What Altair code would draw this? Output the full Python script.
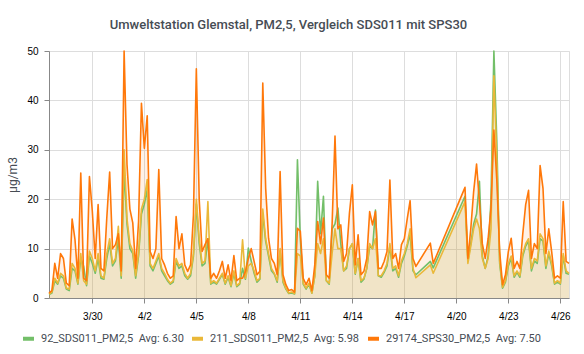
import altair as alt
import pandas as pd

N = None
start = "2021-03-27 12:00"
n_points = 181  # 4-hour grid

names = ["92_SDS011_PM2,5", "211_SDS011_PM2,5", "29174_SPS30_PM2,5"]
avgs = ["6.30", "5.98", "7.50"]
colors = ["#73BF69", "#EAB839", "#FF780A"]
tick_dates = [(3, 30), (4, 2), (4, 5), (4, 8), (4, 11), (4, 14), (4, 17), (4, 20), (4, 23), (4, 26)]
y_ticks = [0, 10, 20, 30, 40, 50]

sds92 = [
    0.7, 1.0, 3.5, 2.8, 4.5, 4.0, 1.8, 1.5, 6.0, 5.5,
    2.8, 8.0, 6.4, 2.5, 8.5, 7.0, 5.0, 8.0, 4.0, 3.8,
    8.0, 11.0, 6.5, 7.5, 12.0, 4.0, 26.0, 15.0, 10.0, 9.0,
    4.0, 8.5, 17.0, 19.0, 22.0, 6.5, 5.5, 7.0, 8.5, 5.5,
    4.5, 3.5, 2.8, 3.2, 7.5, 6.0, 6.5, 4.5, 3.8, 4.5,
    8.5, 19.0, 11.0, 6.5, 7.0, 12.0, 2.8, 3.2, 2.8, 3.8,
    4.8, 2.8, 4.2, 2.3, 5.0, 2.3, 2.8, 6.0, 3.8, 10.1,
    7.5, 5.0, 3.2, 3.8, 17.0, 11.5, 8.5, 5.5, 4.8, 3.2,
    9.5, 3.2, 1.8, 0.9, 1.0, 0.8, 28.0, 12.0, 2.8, 1.8,
    2.8, 1.0, 4.5, 23.6, 13.0, 20.6, 3.5, 2.8, 14.0, 15.0,
    18.2, 11.0, 5.5, 6.0, 10.0, 11.0, 4.8, 8.0, 3.2, 3.8,
    6.0, 10.5, 10.0, 17.8, 4.5, 4.2, 5.2, 6.5, 10.5, 5.5,
    6.0, 4.2, 7.0, 8.5, 10.5, 13.0, 5.5, 4.7, N, N,
    N, N, 7.4, 6.1, N, N, N, N, N, N,
    N, N, N, N, 20.6, 7.5, 11.0, 15.0, 17.0, 23.6,
    8.5, 6.0, 8.5, 20.0, 50.0, 32.0, 7.0, 2.0, 3.2, 6.5,
    8.0, 4.2, 5.2, 4.2, 8.5, 10.5, 11.5, 5.5, 7.5, 7.0,
    12.0, 11.5, 6.0, 9.0, 6.5, 2.8, 3.2, 2.8, 8.5, 5.0,
    4.8,
]

sds211 = [
    0.8, 1.2, 4.0, 3.0, 5.0, 4.5, 2.0, 1.8, 7.0, 6.0,
    3.0, 9.0, 3.5, 2.8, 9.5, 8.0, 5.5, 9.0, 4.5, 4.0,
    9.0, 12.0, 7.0, 8.0, 14.5, 4.5, 30.0, 16.0, 11.0, 9.5,
    4.5, 9.0, 18.0, 20.0, 24.0, 7.0, 6.0, 7.5, 9.0, 6.0,
    5.0, 3.8, 3.0, 3.5, 8.0, 6.5, 7.0, 5.0, 4.0, 5.0,
    9.0, 20.0, 12.0, 7.0, 7.5, 19.5, 3.0, 3.5, 3.0, 4.0,
    5.0, 3.0, 4.5, 2.5, 5.5, 2.5, 3.0, 11.8, 4.0, 6.5,
    7.0, 5.5, 3.5, 4.0, 18.0, 12.0, 9.0, 6.0, 5.0, 3.5,
    10.0, 3.5, 2.0, 1.0, 1.2, 0.9, 9.0, 8.5, 3.0, 2.0,
    3.0, 1.0, 4.5, 11.0, 9.0, 12.0, 3.5, 3.0, 9.0, 14.0,
    10.0, 10.0, 5.5, 6.5, 10.0, 11.0, 5.0, 8.0, 3.5, 4.0,
    6.0, 11.0, 10.0, 12.0, 4.5, 4.5, 5.5, 7.0, 11.0, 6.0,
    6.5, 4.5, 7.5, 9.0, 11.0, 14.0, 6.0, 4.1, N, N,
    N, N, 6.7, 5.0, N, N, N, N, N, N,
    N, N, N, N, 19.5, 7.0, 10.5, 14.0, 16.0, 14.0,
    8.0, 6.0, 8.0, 14.0, 45.0, 28.0, 7.5, 2.2, 3.5, 7.0,
    8.5, 4.5, 5.5, 4.5, 9.0, 11.0, 12.0, 6.0, 8.0, 7.5,
    13.0, 12.0, 6.5, 9.5, 7.0, 3.0, 3.5, 3.0, 9.0, 5.5,
    5.0,
]

sps30 = [
    1.0, 1.5, 7.0, 4.0, 9.0, 8.0, 3.0, 2.5, 16.0, 11.8,
    4.0, 25.3, 4.0, 3.5, 24.6, 17.5, 8.0, 18.9, 6.0, 5.5,
    16.2, 25.5, 10.0, 10.8, 13.0, 5.5, 50.0, 27.0, 18.0, 15.2,
    6.0, 15.5, 39.4, 30.3, 36.9, 9.4, 8.0, 10.0, 26.0, 8.0,
    6.7, 5.0, 4.0, 4.5, 16.5, 10.0, 13.0, 6.7, 5.4, 6.7,
    16.8, 46.4, 19.9, 9.4, 10.8, 12.0, 4.0, 5.0, 4.0, 5.5,
    7.4, 4.0, 6.7, 3.5, 8.6, 3.5, 4.0, 4.0, 5.4, 8.0,
    10.0, 7.4, 4.7, 5.4, 43.5, 22.2, 12.1, 8.0, 7.0, 4.7,
    25.6, 4.7, 2.7, 1.5, 1.7, 1.2, 14.1, 13.5, 4.0, 2.7,
    4.0, 1.5, 6.7, 15.5, 11.0, 16.2, 4.7, 4.0, 15.0, 32.8,
    14.0, 14.8, 7.4, 9.0, 17.2, 22.9, 6.7, 12.8, 4.7, 5.4,
    8.0, 17.5, 14.8, 17.5, 6.0, 6.0, 7.4, 9.4, 23.9, 8.0,
    9.0, 6.0, 10.8, 12.0, 16.0, 19.7, 8.0, 6.4, N, N,
    N, N, 11.1, 7.0, N, N, N, N, N, N,
    N, N, N, N, 22.4, 8.0, 14.0, 21.6, 27.1, 19.5,
    11.0, 8.0, 12.0, 18.2, 34.0, 24.0, 9.4, 2.7, 4.7, 9.4,
    12.1, 6.0, 7.4, 6.0, 13.0, 18.9, 21.8, 8.0, 11.0, 10.0,
    26.8, 22.2, 9.0, 14.0, 9.4, 4.0, 4.5, 4.0, 19.5, 7.4,
    7.0,
]

times = pd.date_range(start, periods=n_points, freq="4h")
labels = [f"{nm}\u00a0\u00a0Avg: {a}" for nm, a in zip(names, avgs)]

rows = []
for lab, vals in zip(labels, [sds92, sds211, sps30]):
    assert len(vals) == n_points, (lab, len(vals))
    for t, v in zip(times, vals):
        if v is not None:
            rows.append({"time": t.strftime("%Y-%m-%dT%H:%M:%S"), "value": v, "series": lab})
df = pd.DataFrame(rows)

FONT = "Roboto"
TXT = "#464c54"

x_enc = alt.X(
    "time:T",
    scale=alt.Scale(domain=[
        alt.DateTime(year=2021, month=3, date=27, hours=12),
        alt.DateTime(year=2021, month=4, date=26, hours=12),
    ]),
    axis=alt.Axis(
        values=[alt.DateTime(year=2021, month=m, date=d) for m, d in tick_dates],
        format="%-m/%-d", title=None, labelPadding=8,
    ),
)
y_enc = alt.Y(
    "value:Q", stack=None,
    scale=alt.Scale(domain=[0, 50], nice=False),
    axis=alt.Axis(values=y_ticks, title="µg/m3", labelPadding=6, titlePadding=7,
                  titleFontWeight="normal", titleFont=FONT, titleFontSize=12, titleColor=TXT),
)

layers = []
for lab, col in zip(labels, colors):
    layers.append(
        alt.Chart(df).transform_filter(alt.datum.series == lab)
        .mark_area(color=col, opacity=0.1)
        .encode(x=x_enc, y=y_enc)
    )
color_enc = alt.Color(
    "series:N",
    scale=alt.Scale(domain=labels, range=colors),
    legend=alt.Legend(
        orient="none", legendX=-28, legendY=280, direction="horizontal", columns=3,
        title=None, symbolType="stroke", symbolSize=121, symbolStrokeWidth=4,
        labelFont=FONT, labelFontSize=11, labelColor=TXT, labelLimit=400,
        columnPadding=0, labelOffset=5,
    ),
)
for lab in labels:
    layers.append(
        alt.Chart(df).transform_filter(alt.datum.series == lab)
        .mark_line(strokeWidth=1.6, strokeJoin="round")
        .encode(x=x_enc, y=y_enc, color=color_enc)
    )

chart = (
    alt.layer(*layers)
    .properties(
        width=520, height=247,
        autosize=alt.AutoSizeParams(type="none"),
        padding={"left": 49, "top": 51, "right": 15, "bottom": 56},
        title=alt.TitleParams(
            "Umweltstation Glemstal, PM2,5, Vergleich SDS011 mit SPS30",
            anchor="middle", frame="bounds", font=FONT, fontSize=13, fontWeight=500,
            color=TXT, offset=14,
        ),
    )
    .configure_view(stroke=None)
    .configure_axis(
        labelFont=FONT, labelFontSize=11, labelColor=TXT, titleFont=FONT, titleFontSize=12,
        titleFontWeight="normal", titleColor=TXT, gridColor="#e4e4e4", domain=False, ticks=False,
    )
    .configure(background="white")
)

chart.save("out.html", embed_options={"renderer": "svg", "actions": False})
